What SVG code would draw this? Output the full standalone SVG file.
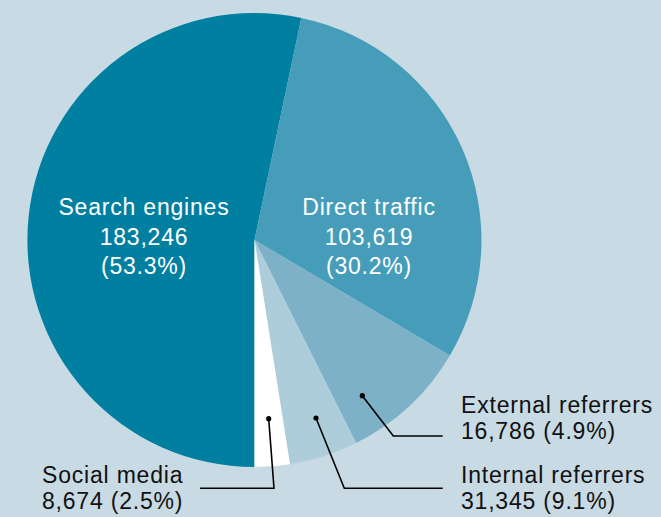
<svg xmlns="http://www.w3.org/2000/svg" width="661" height="517" viewBox="0 0 661 517">
<style>
.in{font-family:"Liberation Sans",Arial,sans-serif;font-size:23px;letter-spacing:0.8px;fill:#ffffff;text-anchor:middle}
.out{font-family:"Liberation Sans",Arial,sans-serif;font-size:23px;letter-spacing:0.8px;fill:#111111}
.lead{fill:none;stroke:#000;stroke-width:1.6}
</style>
<rect width="661" height="517" fill="#c8dae3"/>
<g id="search-engines">
<path d="M254.5,240 L254.5,467 A227,227 0 1 1 301.3,17.9 Z" fill="#017fa1"/>
<text class="in" x="144" y="215">Search engines</text>
<text class="in" x="144" y="245">183,246</text>
<text class="in" x="144" y="274">(53.3%)</text>
</g>
<g id="direct-traffic">
<path d="M254.5,240 L301.3,17.9 A227,227 0 0 1 449.9,355.5 Z" fill="#469dba"/>
<text class="in" x="369" y="215">Direct traffic</text>
<text class="in" x="369" y="245">103,619</text>
<text class="in" x="369" y="274">(30.2%)</text>
</g>
<g id="external-referrers">
<path d="M254.5,240 L449.9,355.5 A227,227 0 0 1 356.1,443 Z" fill="#7db1c8"/>
<text class="out" x="461" y="413">External referrers</text>
<text class="out" x="461" y="439">16,786 (4.9%)</text>
</g>
<g id="internal-referrers">
<path d="M254.5,240 L356.1,443 A227,227 0 0 1 290,464.2 Z" fill="#aecdda"/>
<text class="out" x="461" y="483">Internal referrers</text>
<text class="out" x="461" y="509">31,345 (9.1%)</text>
</g>
<g id="social-media">
<path d="M254.5,240 L290,464.2 A227,227 0 0 1 254.5,467 Z" fill="#ffffff"/>
<text class="out" x="42" y="483">Social media</text>
<text class="out" x="42" y="509">8,674 (2.5%)</text>
</g>
<g id="connectors">
<polyline class="lead" points="362.3,395.7 393.3,436 442.7,436"/>
<circle cx="362.3" cy="395.7" r="2.6"/>
<polyline class="lead" points="316,418 344.3,488.3 442.7,488.3"/>
<circle cx="316" cy="418" r="2.6"/>
<polyline class="lead" points="268.7,418.7 274,488.3 200,488.3"/>
<circle cx="268.7" cy="418.7" r="2.6"/>
</g>
</svg>
